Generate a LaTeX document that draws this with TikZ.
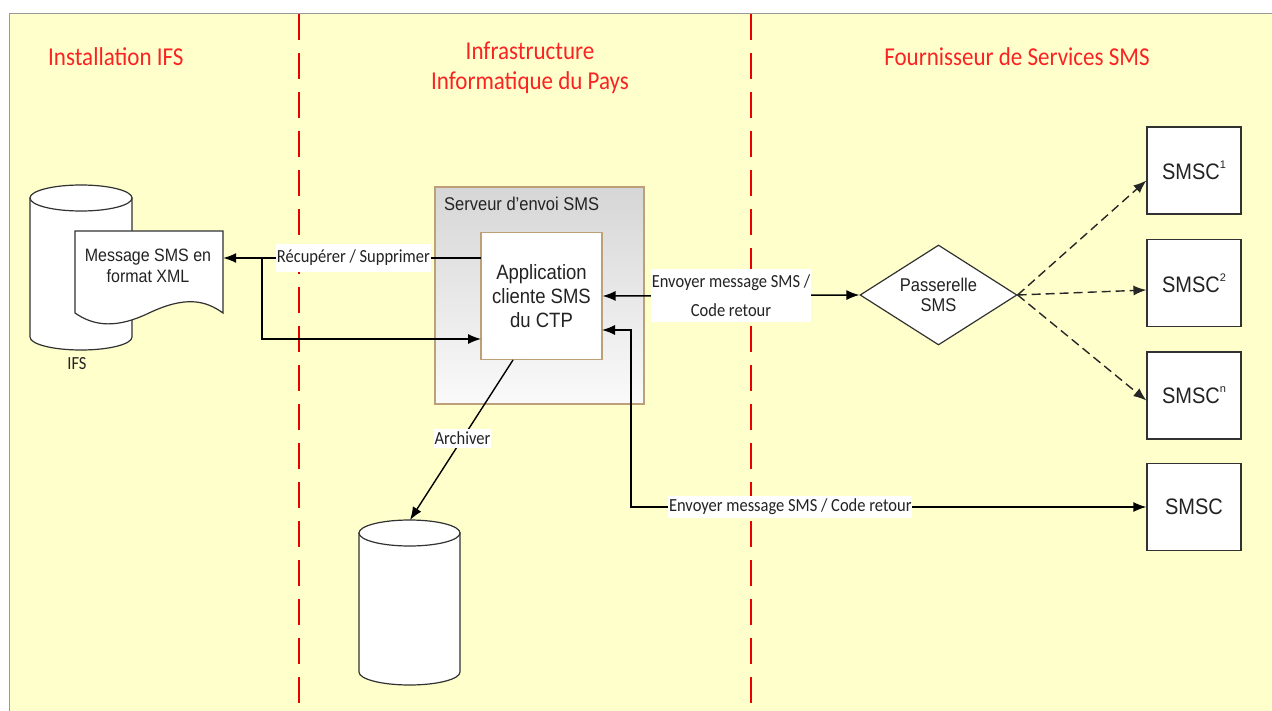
\documentclass[tikz,border=0pt]{standalone}
\usepackage{graphicx}
\usepackage{fontspec}
\setmainfont{Liberation Sans}
\newfontfamily\calfont{Carlito}
\usetikzlibrary{shapes.geometric,arrows.meta,calc}
\definecolor{bgyellow}{RGB}{255,255,204}
\definecolor{titlered}{RGB}{250,35,35}
\definecolor{sepred}{RGB}{235,0,0}
\definecolor{boxline}{RGB}{50,50,50}
\definecolor{tanline}{RGB}{190,160,120}
\definecolor{txt}{RGB}{35,35,35}
\newcommand{\vstr}[1]{\scalebox{1}[1.12]{#1}}
\newcommand{\supx}[1]{\raisebox{0.55em}{\fontsize{11}{11}\selectfont #1}}
\tikzset{
  title/.style={text=titlered, font=\calfont\fontsize{23}{30}\selectfont, inner sep=0pt, align=center},
  sep/.style={draw=sepred, line width=1.3pt, dash pattern=on 26pt off 13pt},
  plain/.style={draw=boxline, fill=white, line width=1.2pt},
  smscbox/.style={plain, minimum width=94pt, minimum height=87pt, inner sep=0pt,
    font=\fontsize{20}{24}\selectfont, text=txt},
  conn/.style={draw=black, line width=1.4pt},
  tip/.tip={Latex[length=13pt,width=10pt]},
  arr/.style={conn, -tip},
  dbl/.style={conn, tip-tip},
  dasharr/.style={draw=black!85, line width=1.4pt, dash pattern=on 9pt off 5pt, -tip},
  lbl/.style={fill=white, text=txt, font=\calfont\fontsize{16.5}{29}\selectfont, inner xsep=1pt, inner ysep=6pt, align=center},
}
\begin{document}
\begin{tikzpicture}[x=1pt,y=-1pt]
\useasboundingbox (0,0) rectangle (1272,711);
% background
\fill[bgyellow] (9.5,13.5) rectangle (1272,711);
\draw[black!40, line width=1.3pt] (9.5,711) -- (9.5,13.5) -- (1272,13.5);

% separators
\draw[sep] (299,14) -- (299,711);
\draw[sep] (751,14) -- (751,711);

% titles
\node[title, anchor=west] (t1) at (48,57) {\vstr{Installation IFS}};
\node[title] (t2) at (530,68) {\vstr{Infrastructure}\\\vstr{Informatique du Pays}};
\node[title] (t3) at (1017,57) {\vstr{Fournisseur de Services SMS}};

% IFS cylinder
\filldraw[plain] (30,198) -- (30,337) arc[start angle=180,end angle=360,x radius=51pt,y radius=13pt] -- (132,198) -- cycle;
\draw[plain] (81,198) ellipse[x radius=51pt,y radius=13pt];
\node[font=\calfont\fontsize{16.5}{20}\selectfont, text=txt] (ifs) at (77,364) {\vstr{IFS}};

% document
\filldraw[plain] (75,231) -- (223,231) -- (223,313)
  .. controls (205,300) and (185,296) .. (149,313)
  .. controls (118,328) and (95,327) .. (75,313) -- cycle;
\node[minimum width=148pt, minimum height=82pt, inner sep=0pt] (docbox) at (149,272) {};
\node[font=\fontsize{16}{21}\selectfont, text=txt, align=center] (doctext) at (148,266) {\vstr{Message SMS en}\\\vstr{format XML}};

% server box
\node[draw=tanline, line width=1.2pt, top color=black!16, bottom color=black!2,
      minimum width=209pt, minimum height=217pt, inner sep=0pt] (server) at (539.5,295.5) {};
\node[anchor=west, font=\fontsize{16.5}{20}\selectfont, text=txt, inner sep=0pt] (servlbl) at (444,204) {\vstr{Serveur d’envoi SMS}};

% application box
\node[draw=tanline, fill=white, line width=1.2pt, minimum width=121pt, minimum height=127pt,
      inner sep=0pt, align=center, font=\fontsize{18.5}{24}\selectfont, text=txt] (app) at (541.5,296) {\vstr{Application}\\\vstr{cliente SMS}\\\vstr{du CTP}};

% archive cylinder
\filldraw[plain] (359,533) -- (359,672) arc[start angle=180,end angle=360,x radius=50.5pt,y radius=13pt] -- (460,533) -- cycle;
\draw[plain] (409.5,533) ellipse[x radius=50.5pt,y radius=13pt];
\coordinate (arch) at (410,520);

% diamond
\node[diamond, draw=boxline, fill=white, line width=1.2pt, minimum width=157pt, minimum height=100pt,
      inner sep=0pt] (gw) at (938.5,295) {};
\node[align=center, font=\fontsize{16.5}{20}\selectfont, text=txt, inner sep=0pt] (gwtext) at (gw.center) {\vstr{Passerelle}\\\vstr{SMS}};

% SMSC boxes
\node[smscbox] (s1) at (1194,170.5) {\vstr{SMSC}\supx{1}};
\node[smscbox] (s2) at (1194,283) {\vstr{SMSC}\supx{2}};
\node[smscbox] (sn) at (1194,395.5) {\vstr{SMSC}\supx{n}};
\node[smscbox] (smsc) at (1194,507) {\vstr{SMSC}};

% connectors
\coordinate (r1) at (481,258);
\coordinate (j1) at (262,258);
\coordinate (r2) at (481,339);
\coordinate (r3) at (602,330);
\coordinate (j2) at (631,507);
\coordinate (a3) at (513,360);

\draw[arr] (r1) -- (r1 -| docbox.east) node[lbl, pos=0.495] {\vstr{Récupérer / Supprimer}};
\draw[arr] (j1) |- (r2);
\draw[dbl] (app.east) -- (gw.west) node[lbl, pos=0.5] {\vstr{Envoyer message SMS /}\\\vstr{Code retour}};
\draw[dbl] (r3) -| (j2) -- (smsc.west) node[lbl, pos=0.309, inner ysep=3pt] {\vstr{Envoyer message SMS / Code retour}};
\draw[arr] (a3) -- (arch) node[lbl, pos=0.49, inner ysep=3pt] {\vstr{Archiver}};

\draw[dasharr] (gw.east) -- ($(s1.west)+(0,10)$);
\draw[dasharr] (gw.east) -- ($(s2.west)+(0,7)$);
\draw[dasharr] (gw.east) -- ($(sn.west)+(0,5)$);
\end{tikzpicture}
\end{document}
